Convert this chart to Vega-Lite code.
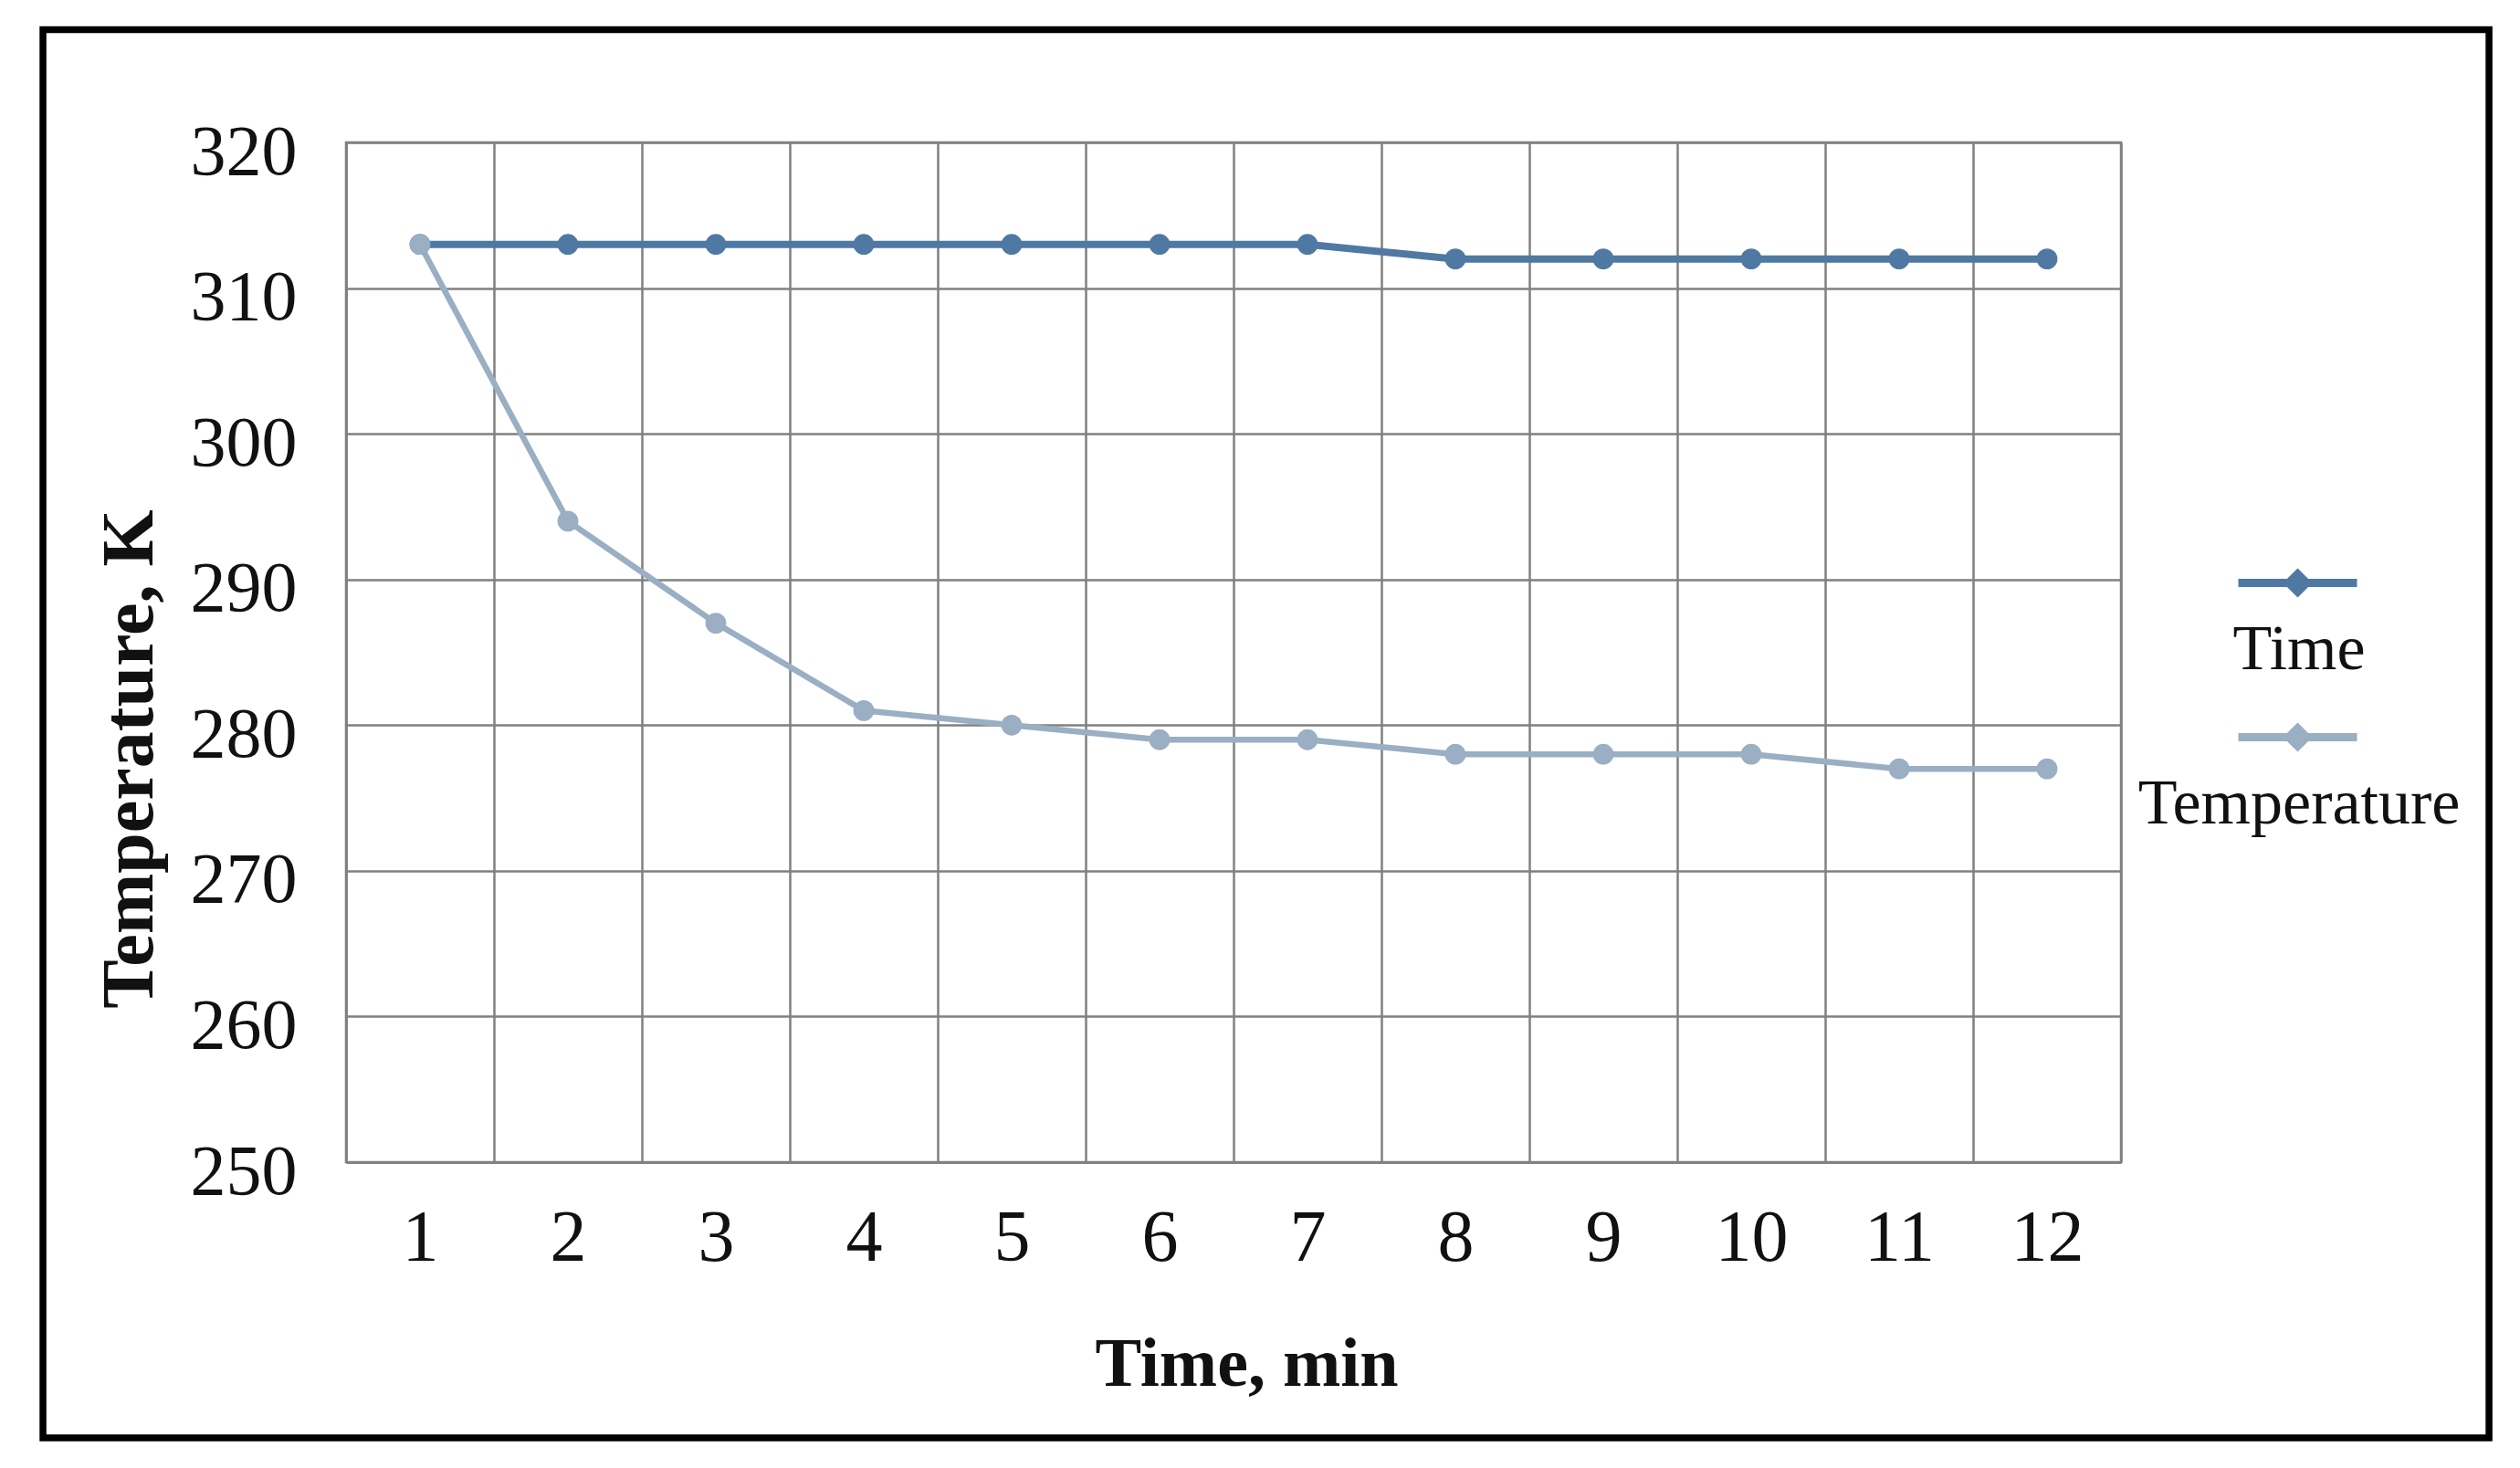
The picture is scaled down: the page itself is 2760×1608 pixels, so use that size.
{
  "$schema": "https://vega.github.io/schema/vega-lite/v6.json",
  "width": 1944,
  "height": 1117,
  "autosize": "none",
  "padding": {"left": 379, "top": 156, "right": 437, "bottom": 335},
  "background": "white",
  "config": {
    "view": {"stroke": "#808080", "strokeWidth": 2.5},
    "font": "Liberation Serif"
  },
  "data": {
    "values": [
      {"t": 1, "series": "Time", "value": 313},
      {"t": 2, "series": "Time", "value": 313},
      {"t": 3, "series": "Time", "value": 313},
      {"t": 4, "series": "Time", "value": 313},
      {"t": 5, "series": "Time", "value": 313},
      {"t": 6, "series": "Time", "value": 313},
      {"t": 7, "series": "Time", "value": 313},
      {"t": 8, "series": "Time", "value": 312},
      {"t": 9, "series": "Time", "value": 312},
      {"t": 10, "series": "Time", "value": 312},
      {"t": 11, "series": "Time", "value": 312},
      {"t": 12, "series": "Time", "value": 312},
      {"t": 1, "series": "Temperature", "value": 313},
      {"t": 2, "series": "Temperature", "value": 294},
      {"t": 3, "series": "Temperature", "value": 287},
      {"t": 4, "series": "Temperature", "value": 281},
      {"t": 5, "series": "Temperature", "value": 280},
      {"t": 6, "series": "Temperature", "value": 279},
      {"t": 7, "series": "Temperature", "value": 279},
      {"t": 8, "series": "Temperature", "value": 278},
      {"t": 9, "series": "Temperature", "value": 278},
      {"t": 10, "series": "Temperature", "value": 278},
      {"t": 11, "series": "Temperature", "value": 277},
      {"t": 12, "series": "Temperature", "value": 277}
    ]
  },
  "layer": [
    {
      "data": {"values": [{"frame": "outer"}]},
      "mark": {"type": "rect", "fill": "transparent", "stroke": "black", "strokeWidth": 7.5, "clip": false},
      "encoding": {
        "x": {"datum": -1.549, "type": "quantitative", "scale": {"domain": [0.5, 12.5], "nice": false, "zero": false}},
        "x2": {"datum": 14.988},
        "y": {"datum": 327.74, "type": "quantitative", "scale": {"domain": [250, 320], "nice": false, "zero": false}},
        "y2": {"datum": 231.07}
      }
    },
    {
      "transform": [{"filter": "datum.series === 'Time'"}],
      "mark": {"type": "line", "interpolate": "linear", "strokeWidth": 8},
      "encoding": {
        "x": {
          "field": "t", "type": "quantitative",
          "scale": {"domain": [0.5, 12.5], "nice": false, "zero": false},
          "axis": {
            "title": "Time, min",
            "values": [0.5, 1.5, 2.5, 3.5, 4.5, 5.5, 6.5, 7.5, 8.5, 9.5, 10.5, 11.5, 12.5],
            "labelExpr": "datum.value < 12 ? format(datum.value + 0.5, 'd') : ''",
            "labelOffset": 81,
            "labelFlush": false,
            "labelOverlap": false,
            "labelFont": "Liberation Serif",
            "labelFontSize": 80,
            "labelColor": "#111111",
            "labelPadding": 44,
            "labelBaseline": "top",
            "ticks": false,
            "grid": true,
            "gridColor": "#808080",
            "gridWidth": 2.5,
            "domainColor": "#808080",
            "domainWidth": 2.5,
            "titleFont": "Liberation Serif",
            "titleFontSize": 76,
            "titleFontWeight": "bold",
            "titleColor": "#111111",
            "titleX": 986,
            "titleY": 244,
            "titleBaseline": "alphabetic"
          }
        },
        "y": {
          "field": "value", "type": "quantitative",
          "scale": {"domain": [250, 320], "nice": false, "zero": false},
          "axis": {
            "title": "Temperature, K",
            "values": [250, 260, 270, 280, 290, 300, 310, 320],
            "labelFont": "Liberation Serif",
            "labelFontSize": 78,
            "labelColor": "#111111",
            "labelPadding": 54,
            "labelBaseline": "alphabetic",
            "labelOffset": 34,
            "labelFlush": false,
            "labelOverlap": false,
            "ticks": false,
            "grid": true,
            "gridColor": "#808080",
            "gridWidth": 2.5,
            "domainColor": "#808080",
            "domainWidth": 2.5,
            "titleFont": "Liberation Serif",
            "titleFontSize": 80,
            "titleFontWeight": "bold",
            "titleColor": "#111111",
            "titleX": -213,
            "titleY": 675,
            "titleBaseline": "alphabetic"
          }
        },
        "color": {
          "field": "series", "type": "nominal",
          "scale": {"domain": ["Time", "Temperature"], "range": ["#4f79a2", "#9aaec4"]},
          "legend": {
            "title": null,
            "orient": "none",
            "legendX": 2068,
            "legendY": 452,
            "symbolType": "M-1,-0.6H1M-0.15,-0.6L0,-0.75L0.15,-0.6L0,-0.45Z",
            "symbolSize": 16900,
            "symbolStrokeWidth": 9,
            "labelFont": "Liberation Serif",
            "labelFontSize": 70,
            "labelColor": "#111111",
            "labelAlign": "center",
            "labelBaseline": "top",
            "labelOffset": -68,
            "labelLimit": 0,
            "rowPadding": 30,
            "padding": 0,
            "encode": {
              "symbols": {
                "update": {
                  "fill": {"scale": "color", "field": "value"},
                  "stroke": {"scale": "color", "field": "value"},
                  "strokeWidth": {"value": 9},
                  "opacity": {"value": 1}
                }
              }
            }
          }
        }
      }
    },
    {
      "transform": [{"filter": "datum.series === 'Temperature'"}],
      "mark": {"type": "line", "interpolate": "linear", "strokeWidth": 6.5},
      "encoding": {
        "x": {"field": "t", "type": "quantitative"},
        "y": {"field": "value", "type": "quantitative"},
        "color": {"field": "series", "type": "nominal"}
      }
    },
    {
      "mark": {"type": "point", "filled": true, "shape": "circle", "size": 520, "opacity": 1},
      "encoding": {
        "x": {"field": "t", "type": "quantitative"},
        "y": {"field": "value", "type": "quantitative"},
        "color": {"field": "series", "type": "nominal"}
      }
    }
  ]
}
